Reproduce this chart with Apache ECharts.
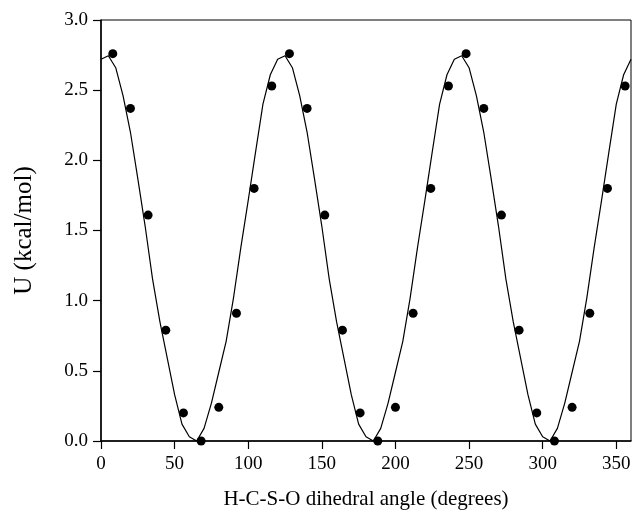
<!DOCTYPE html>
<html>
<head>
<meta charset="utf-8">
<script src="https://cdn.jsdelivr.net/npm/echarts@6/dist/echarts.min.js"></script>
<style>
html,body{margin:0;padding:0;background:#fff;}
#chart{width:635px;height:512px;}
</style>
</head>
<body>
<div id="chart"></div>
<script>
// Scatter points (dihedral angle, energy)
const pointAngles = [8,20,32,44,56,68,80,92,104,116,128,140,152,164,176,188,200,212,224,236,248,260,272,284,296,308,320,332,344,356];
const pointEnergies = [2.76,2.37,1.61,0.79,0.20,0.00,0.24,0.91,1.80,2.53,2.76,2.37,1.61,0.79,0.20,0.00,0.24,0.91,1.80,2.53,2.76,2.37,1.61,0.79,0.20,0.00,0.24,0.91,1.80,2.53];

// Fitted curve every 5 degrees
const curveAngles = [0,5,10,15,20,25,30,35,40,45,50,55,60,65,70,75,80,85,90,95,100,105,110,115,
  120,125,130,135,140,145,150,155,160,165,170,175,180,185,190,195,200,205,210,215,220,225,230,235,
  240,245,250,255,260,265,270,275,280,285,290,295,300,305,310,315,320,325,330,335,340,345,350,355,360];
const curveEnergies = [2.72,2.745,2.66,2.46,2.20,1.87,1.53,1.155,0.85,0.59,0.33,0.12,0.03,0.00,0.09,0.27,0.49,0.71,1.02,1.38,1.715,2.06,2.40,2.61,
  2.72,2.745,2.66,2.46,2.20,1.87,1.53,1.155,0.85,0.59,0.33,0.12,0.03,0.00,0.09,0.27,0.49,0.71,1.02,1.38,1.715,2.06,2.40,2.61,
  2.72,2.745,2.66,2.46,2.20,1.87,1.53,1.155,0.85,0.59,0.33,0.12,0.03,0.00,0.09,0.27,0.49,0.71,1.02,1.38,1.715,2.06,2.40,2.61,2.72];

const xTitle = 'H-C-S-O dihedral angle (degrees)';
const yTitle = 'U (kcal/mol)';

const chart = echarts.init(document.getElementById('chart'), null, {renderer:'canvas'});
const font = 'Liberation Serif';
chart.setOption({
  animation: false,
  backgroundColor: '#fff',
  grid: {left:101, right:4, top:20, bottom:71, show:true, borderColor:'#000', borderWidth:1,
         containLabel:false, outerBoundsMode:'none'},
  xAxis: {
    type:'value', min:0, max:360, interval:50,
    name: xTitle, nameLocation:'middle', nameGap:48,
    nameTextStyle:{fontFamily:font, fontSize:21, color:'#000'},
    axisLine:{lineStyle:{color:'#000', width:1.5}},
    axisTick:{show:true, inside:false, length:8, lineStyle:{color:'#000', width:1.2}},
    axisLabel:{fontFamily:font, fontSize:19, color:'#000', margin:14, showMaxLabel:false},
    splitLine:{show:false}
  },
  yAxis: {
    type:'value', min:0, max:3, interval:0.5,
    name: yTitle, nameLocation:'middle', nameGap:64,
    nameTextStyle:{fontFamily:font, fontSize:25, color:'#000'},
    axisLine:{lineStyle:{color:'#000', width:1.5}},
    axisTick:{show:true, inside:false, length:8, lineStyle:{color:'#000', width:1.2}},
    axisLabel:{fontFamily:font, fontSize:19, color:'#000', margin:13, formatter: v => v.toFixed(1)},
    splitLine:{show:false}
  },
  series: [
    {
      type:'line',
      data: curveAngles.map((a,i)=>[a, curveEnergies[i]]),
      showSymbol:false, smooth:false,
      lineStyle:{color:'#000', width:1.2},
      z:2
    },
    {
      type:'scatter',
      data: pointAngles.map((a,i)=>[a, pointEnergies[i]]),
      symbol:'circle', symbolSize:9,
      itemStyle:{color:'#000', opacity:1},
      z:3
    }
  ]
});
</script>
</body>
</html>
